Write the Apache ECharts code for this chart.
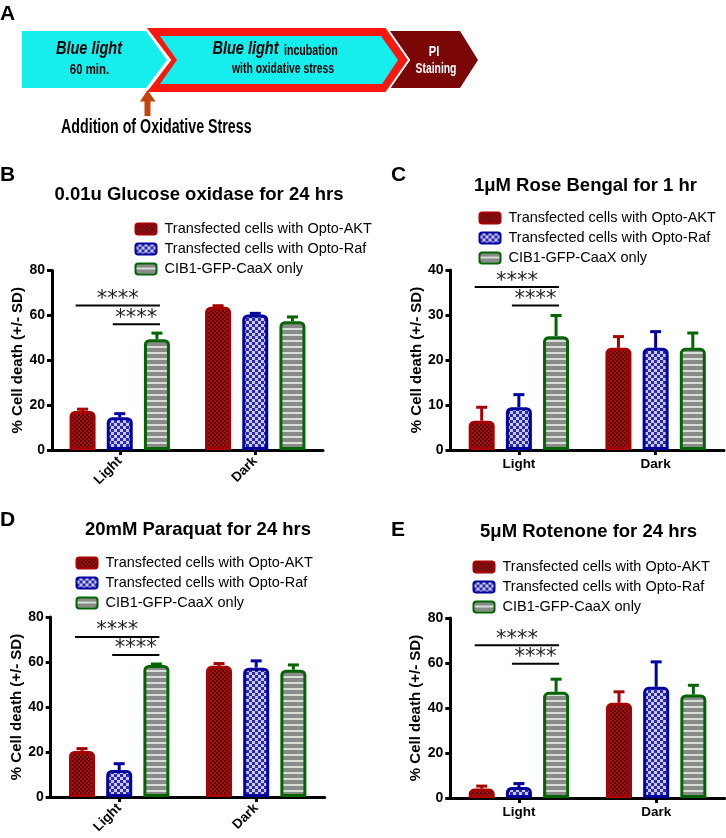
<!DOCTYPE html>
<html><head><meta charset="utf-8">
<script src="https://cdn.jsdelivr.net/npm/echarts@6/dist/echarts.min.js"></script>
<style>html,body{margin:0;padding:0;background:#fff}#c{width:726px;height:838px}</style>
</head><body><div id="c"></div>
<script>
// ---------- data ----------
const categories = ['Light', 'Dark'];
const seriesNames = ['Transfected cells with Opto-AKT', 'Transfected cells with Opto-Raf', 'CIB1-GFP-CaaX only'];
const panelTitles = ['0.01u Glucose oxidase for 24 hrs', '1μM Rose Bengal for 1 hr', '20mM Paraquat for 24 hrs', '5μM Rotenone for 24 hrs'];
const panelLetters = ['B', 'C', 'D', 'E'];
const yAxisName = '% Cell death (+/- SD)';
const yMax = [80, 40, 80, 80];
const yInterval = [20, 10, 20, 20];
const sigLabel = '****';

// Panel B: glucose oxidase
const glucoseAKT = [17.4, 63.8], glucoseAKTsd = [0.8, 0.5];
const glucoseRaf = [14.6, 60.4], glucoseRafsd = [1.6, 0.5];
const glucoseCIB = [49.4, 57.4], glucoseCIBsd = [2.7, 1.9];
const glucoseSig = [64.4, 56.1];
// Panel C: rose bengal
const roseAKT = [6.5, 22.7], roseAKTsd = [3.0, 2.5];
const roseRaf = [9.5, 22.7], roseRafsd = [2.8, 3.6];
const roseCIB = [25.3, 22.7], roseCIBsd = [4.6, 3.3];
const roseSig = [36.2, 32.1];
// Panel D: paraquat
const paraquatAKT = [20.5, 58.3], paraquatAKTsd = [1.0, 1.0];
const paraquatRaf = [12.0, 57.5], paraquatRafsd = [2.8, 3.0];
const paraquatCIB = [58.7, 56.6], paraquatCIBsd = [0.4, 2.1];
const paraquatSig = [71.1, 63.1];
// Panel E: rotenone
const rotenoneAKT = [4.2, 42.3], rotenoneAKTsd = [1.1, 4.9];
const rotenoneRaf = [4.9, 49.4], rotenoneRafsd = [1.5, 11.1];
const rotenoneCIB = [47.2, 46.0], rotenoneCIBsd = [5.6, 4.1];
const rotenoneSig = [67.9, 59.7];

// ---------- styling ----------
const FONT = 'Liberation Sans, Arial, sans-serif';
const BAR_W = 26, BAR_GAP = 0.43, BAR_STEP = BAR_W * (1 + BAR_GAP);
const borderColors = ['#a60000', '#00009e', '#006400'];

function pattern(w, h, draw) {
  const c = document.createElement('canvas'); c.width = w; c.height = h;
  draw(c.getContext('2d'));
  return { image: c, repeat: 'repeat' };
}
const fills = [
  pattern(4, 4, g => { g.fillStyle = '#a51212'; g.fillRect(0,0,4,4); g.fillStyle = '#5a0202'; g.fillRect(0,0,2,2); g.fillRect(2,2,2,2); }),
  pattern(6, 6, g => { g.fillStyle = '#c9c9f2'; g.fillRect(0,0,6,6); g.fillStyle = '#2828b0'; g.fillRect(0,0,3,3); g.fillRect(3,3,3,3); }),
  pattern(6, 6, g => { g.fillStyle = '#8a8a8a'; g.fillRect(0,0,6,6); g.fillStyle = '#d6ded6'; g.fillRect(0,4,6,2); })
];

const panels = [
  { vals: [glucoseAKT, glucoseRaf, glucoseCIB], sds: [glucoseAKTsd, glucoseRafsd, glucoseCIBsd], sig: glucoseSig,
    grid: { left: 52, top: 270.5, width: 271, height: 179.5 }, rotate: 45, nameGap: 27,
    legend: { left: 134.5, top: 219 }, title: [199, 195], letter: [0, 175] },
  { vals: [roseAKT, roseRaf, roseCIB], sds: [roseAKTsd, roseRafsd, roseCIBsd], sig: roseSig,
    grid: { left: 450.5, top: 270, width: 273.5, height: 180 }, rotate: 0, nameGap: 24,
    legend: { left: 478.5, top: 208 }, title: [585.5, 186], letter: [391, 175] },
  { vals: [paraquatAKT, paraquatRaf, paraquatCIB], sds: [paraquatAKTsd, paraquatRafsd, paraquatCIBsd], sig: paraquatSig,
    grid: { left: 50.7, top: 617, width: 274, height: 180 }, rotate: 45, nameGap: 24,
    legend: { left: 75.5, top: 553 }, title: [198, 530], letter: [0, 520] },
  { vals: [rotenoneAKT, rotenoneRaf, rotenoneCIB], sds: [rotenoneAKTsd, rotenoneRafsd, rotenoneCIBsd], sig: rotenoneSig,
    grid: { left: 450.3, top: 618, width: 274.5, height: 180 }, rotate: 0, nameGap: 24,
    legend: { left: 472.5, top: 557 }, title: [588.5, 532], letter: [391, 530] }
];

function renderErr(params, api) {
  const cat = api.value(0), k = api.value(1), v = api.value(2), sd = api.value(3);
  const b = api.coord([cat, v]), t = api.coord([cat, v + sd]);
  const x = b[0] + (k - 1) * BAR_STEP;
  const st = { stroke: borderColors[k], lineWidth: 3 };
  return { type: 'group', children: [
    { type: 'line', shape: { x1: x, y1: b[1], x2: x, y2: t[1] }, style: st },
    { type: 'line', shape: { x1: x - 5.5, y1: t[1], x2: x + 5.5, y2: t[1] }, style: st }
  ]};
}
function renderSig(params, api) {
  const cat = api.value(0), from = api.value(1), to = api.value(2), y = api.value(3);
  const p = api.coord([cat, y]);
  const x1 = p[0] + (from - 1) * BAR_STEP - 7, x2 = p[0] + (to - 1) * BAR_STEP + 3;
  return { type: 'group', children: [
    { type: 'line', shape: { x1: x1, y1: p[1], x2: x2, y2: p[1] }, style: { stroke: '#000', lineWidth: 2 } },
    { type: 'text', x: (x1 + x2) / 2, y: p[1] - 6, style: { text: sigLabel, fill: '#222', font: '21px DejaVu Sans', align: 'center', verticalAlign: 'middle' } }
  ]};
}

const grid = [], xAxis = [], yAxis = [], series = [], legend = [], graphic = [];
panels.forEach((P, i) => {
  grid.push(Object.assign({ outerBoundsMode: 'none', containLabel: false }, P.grid));
  xAxis.push({ type: 'category', gridIndex: i, data: categories,
    axisLine: { show: true, lineStyle: { color: '#000', width: 3 } },
    axisTick: { show: true, alignWithLabel: true, length: 5, lineStyle: { color: '#000', width: 3 } },
    axisLabel: { color: '#000', fontWeight: 'bold', fontSize: 13.5, fontFamily: FONT, rotate: P.rotate, margin: P.rotate ? 9 : 7 },
    splitLine: { show: false } });
  yAxis.push({ type: 'value', gridIndex: i, min: 0, max: yMax[i], interval: yInterval[i],
    name: yAxisName, nameLocation: 'middle', nameGap: P.nameGap,
    nameTextStyle: { color: '#000', fontWeight: 'bold', fontSize: 15, fontFamily: FONT },
    axisLine: { show: true, lineStyle: { color: '#000', width: 3 } },
    axisTick: { show: true, length: 5, lineStyle: { color: '#000', width: 3 } },
    axisLabel: { color: '#000', fontWeight: 'bold', fontSize: 14, fontFamily: FONT, margin: 7 },
    splitLine: { show: false } });
  for (let k = 0; k < 3; k++) {
    series.push({ type: 'bar', name: seriesNames[k], xAxisIndex: i, yAxisIndex: i, data: P.vals[k],
      barWidth: BAR_W, barGap: (BAR_GAP * 100) + '%', z: 3,
      itemStyle: { color: fills[k], borderColor: borderColors[k], borderWidth: 3, borderRadius: [4, 4, 0, 0] },
      emphasis: { disabled: true }, animation: false });
  }
  const errData = [];
  for (let k = 0; k < 3; k++) for (let c = 0; c < categories.length; c++) errData.push([c, k, P.vals[k][c], P.sds[k][c]]);
  series.push({ type: 'custom', name: 'err' + i, xAxisIndex: i, yAxisIndex: i, z: 2, renderItem: renderErr,
    encode: { x: 0, y: 2 }, data: errData, silent: true, animation: false });
  series.push({ type: 'custom', name: 'sig' + i, xAxisIndex: i, yAxisIndex: i, z: 4, renderItem: renderSig,
    encode: { x: 0, y: 3 }, data: [[0, 0, 2, P.sig[0]], [0, 1, 2, P.sig[1]]], silent: true, animation: false });
  legend.push({ orient: 'vertical', left: P.legend.left, top: P.legend.top, padding: 0, itemGap: 0,
    itemWidth: 21, itemHeight: 11, icon: 'roundRect', selectedMode: false, data: seriesNames,
    textStyle: { color: '#000', fontSize: 14.5, fontFamily: FONT, lineHeight: 20, padding: [0, 0, 0, 3] } });
  graphic.push({ type: 'text', x: P.title[0], y: P.title[1], style: { text: panelTitles[i], fill: '#000',
    font: 'bold 18.5px ' + FONT, align: 'center', verticalAlign: 'middle' } });
  graphic.push({ type: 'text', x: P.letter[0], y: P.letter[1], style: { text: panelLetters[i], fill: '#000',
    font: 'bold 21px ' + FONT, align: 'left', verticalAlign: 'middle' } });
});

// ---------- panel A schematic ----------
function t(x, y, text, size, sx, opts) {
  opts = opts || {};
  return { type: 'text', x: x, y: y, scaleX: sx, z: 20,
    style: { text: text, fill: opts.fill || '#000', font: (opts.italic ? 'italic ' : '') + 'bold ' + size + 'px ' + FONT,
      align: opts.align || 'center', verticalAlign: 'middle' } };
}
graphic.push(
  { type: 'polygon', z: 10, shape: { points: [[22,31],[146,31],[167,60],[146,88],[22,88]] }, style: { fill: '#16eeee' } },
  { type: 'polygon', z: 10, shape: { points: [[389,31],[460,31],[478,60],[460,88],[389,88],[410,60]] }, style: { fill: '#7b0606' } },
  { type: 'polygon', z: 11, shape: { points: [[145,27],[386,27],[409,60],[386,93],[145,93],[170,60]] }, style: { fill: '#f5190f', stroke: '#fff', lineWidth: 2 } },
  { type: 'polygon', z: 12, shape: { points: [[160,36],[381,36],[398,60],[382,84],[160,84],[177,60]] }, style: { fill: '#16eeee' } },
  { type: 'polygon', z: 13, shape: { points: [[147.5,90],[140,101.5],[144.5,101.5],[144.5,116],[150.5,116],[150.5,101.5],[155.5,101.5]] }, style: { fill: '#c2440c' } },
  { type: 'text', x: 0, y: 14, z: 20, style: { text: 'A', fill: '#000', font: 'bold 21px ' + FONT, align: 'left', verticalAlign: 'middle' } },
  t(89, 49, 'Blue light', 17.5, 0.83, { italic: true }),
  t(89.5, 69.5, '60 min.', 15, 0.76),
  t(245.5, 49, 'Blue light', 17.5, 0.83, { italic: true }),
  t(284, 51.5, 'incubation', 14, 0.76, { align: 'left' }),
  t(283, 69.5, 'with oxidative stress', 14, 0.74),
  t(434, 52, 'PI', 14, 0.8, { fill: '#fff' }),
  t(436, 69.5, 'Staining', 14, 0.74, { fill: '#fff' }),
  t(61, 128, 'Addition of Oxidative Stress', 19.5, 0.73, { align: 'left' })
);

const chart = echarts.init(document.getElementById('c'), null, { renderer: 'canvas' });
chart.setOption({ animation: false, backgroundColor: '#fff', grid, xAxis, yAxis, series, legend, graphic, tooltip: { show: false } });
</script></body></html>
